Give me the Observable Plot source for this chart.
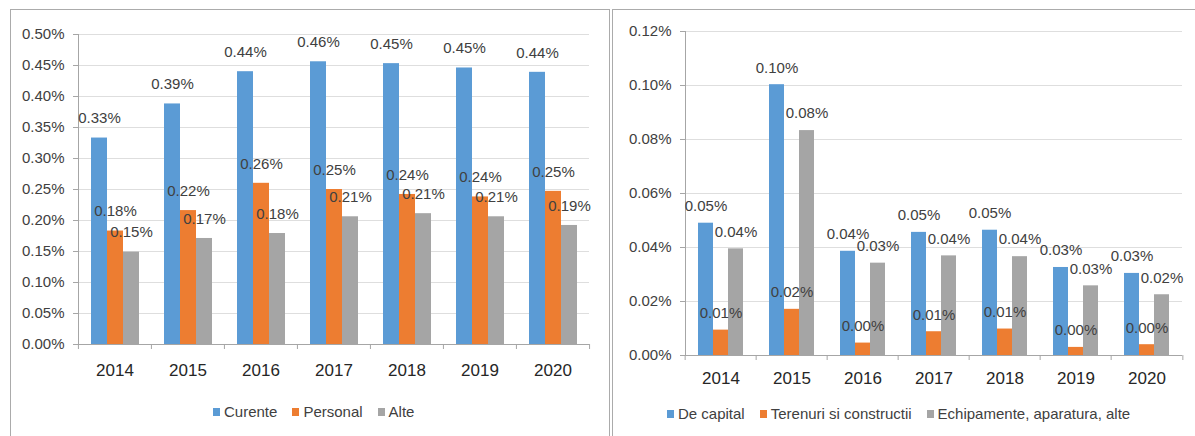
<!DOCTYPE html>
<html><head><meta charset="utf-8">
<script src="https://cdn.jsdelivr.net/npm/d3@7"></script>
<script src="https://cdn.jsdelivr.net/npm/@observablehq/plot@0.6"></script>
<style>
body{margin:0;background:#fff;width:1195px;height:436px;overflow:hidden;position:relative;font-family:"Liberation Sans",Arial,sans-serif;}
.panel{position:absolute;border:1px solid #ababab;box-sizing:border-box;}
.chart{position:absolute;top:0;}
.chart svg{overflow:visible;}
.legend{position:absolute;display:flex;align-items:center;font-size:15px;color:#404040;line-height:18px;white-space:nowrap;}
.legend .item{display:flex;align-items:center;margin-right:15px;}
.legend .sw{display:inline-block;width:7px;height:8px;margin-right:4px;}
</style></head><body>
<div class="panel" style="left:10px;top:9px;width:600px;height:440px"></div>
<div class="panel" style="left:612px;top:9px;width:600px;height:440px"></div>
<div id="left" class="chart" style="left:0px"></div>
<div id="right" class="chart" style="left:600px"></div>
<div id="legL" class="legend" style="left:213px;top:403px"></div>
<div id="legR" class="legend" style="left:667px;top:405px"></div>
<script>
const years = ["2014","2015","2016","2017","2018","2019","2020"];

const seriesLeft = ["Curente","Personal","Alte"];
const curente  = [0.333,0.388,0.440,0.456,0.453,0.446,0.439];
const personal = [0.183,0.216,0.260,0.250,0.242,0.238,0.247];
const alte     = [0.149,0.171,0.179,0.206,0.211,0.206,0.192];
const ticksLeft = [0,0.05,0.10,0.15,0.20,0.25,0.30,0.35,0.40,0.45,0.50];

const seriesRight = ["De capital","Terenuri si constructii","Echipamente, aparatura, alte"];
const deCapital   = [0.0490,0.1003,0.0386,0.0456,0.0464,0.0326,0.0304];
const terenuri    = [0.0094,0.0171,0.0046,0.0088,0.0098,0.0030,0.0040];
const echipamente = [0.0395,0.0833,0.0342,0.0369,0.0366,0.0258,0.0225];
const ticksRight = [0,0.02,0.04,0.06,0.08,0.10,0.12];

const colors = ["#5b9bd5","#ed7d31","#a5a5a5"];
const axisColor = "#a6a6a6";
const fmt = v => v.toFixed(2) + "%";

function chart(cfg) {
  const data = years.flatMap((yr, i) => cfg.series.map((s, j) => ({year: yr, s, v: cfg.values[j][i]})));
  const step = (cfg.width - cfg.ml - cfg.mr) / years.length;
  return Plot.plot({
    width: cfg.width, height: cfg.height,
    marginLeft: cfg.ml, marginRight: cfg.mr, marginTop: cfg.mt, marginBottom: cfg.mb,
    style: {fontFamily: '"Liberation Sans", Arial, sans-serif', fontSize: "15px", color: "#404040", background: "transparent", overflow: "visible"},
    fx: {domain: years, padding: 0, label: null},
    x: {domain: cfg.series, paddingInner: 0, paddingOuter: 0.76, axis: null},
    y: {domain: [0, cfg.ticks[cfg.ticks.length - 1]], label: null},
    color: {domain: cfg.series, range: colors},
    marks: [
      Plot.gridY({ticks: cfg.ticks.slice(1), stroke: "#dedede", strokeOpacity: 1}),
      Plot.barY(data, {fx: "year", x: "s", y: "v", fill: "s"}),
      Plot.ruleY([0], {stroke: axisColor}),
      Plot.frame({anchor: "left", stroke: axisColor, facetAnchor: "left"}),
      Plot.axisY({ticks: cfg.ticks, tickFormat: fmt, tickSize: 5, tickPadding: 9, stroke: axisColor, fill: "#404040", label: null}),
      Plot.axisFx({anchor: "bottom", tickSize: 5, dx: -step / 2, text: null, stroke: axisColor, label: null}),
      Plot.axisFx({anchor: "bottom", ticks: [years[years.length - 1]], tickSize: 5, dx: step / 2, text: null, stroke: axisColor, label: null}),
      Plot.axisFx({anchor: "bottom", tickSize: 0, tickPadding: cfg.yearPad, fontSize: 17, fill: "#262626", label: null}),
      Plot.text(data, {fx: "year", x: "s", y: "v", text: d => fmt(d.v), dy: cfg.dy, fill: "#404040", fontSize: 15})
    ]
  });
}

document.getElementById("left").append(chart({
  series: seriesLeft, values: [curente, personal, alte], ticks: ticksLeft,
  width: 600, height: 400, ml: 77, mr: 11, mt: 34, mb: 56, dy: -19.5, yearPad: 19
}));
document.getElementById("right").append(chart({
  series: seriesRight, values: [deCapital, terenuri, echipamente], ticks: ticksRight,
  width: 595, height: 400, ml: 82, mr: 11, mt: 31, mb: 45, dy: -17, yearPad: 16
}));

function legend(id, series) {
  const el = document.getElementById(id);
  series.forEach((s, i) => {
    const item = document.createElement("div");
    item.className = "item";
    const sw = document.createElement("span");
    sw.className = "sw";
    sw.style.background = colors[i];
    item.append(sw, document.createTextNode(s));
    el.append(item);
  });
}
legend("legL", seriesLeft);
legend("legR", seriesRight);
</script>
</body></html>
